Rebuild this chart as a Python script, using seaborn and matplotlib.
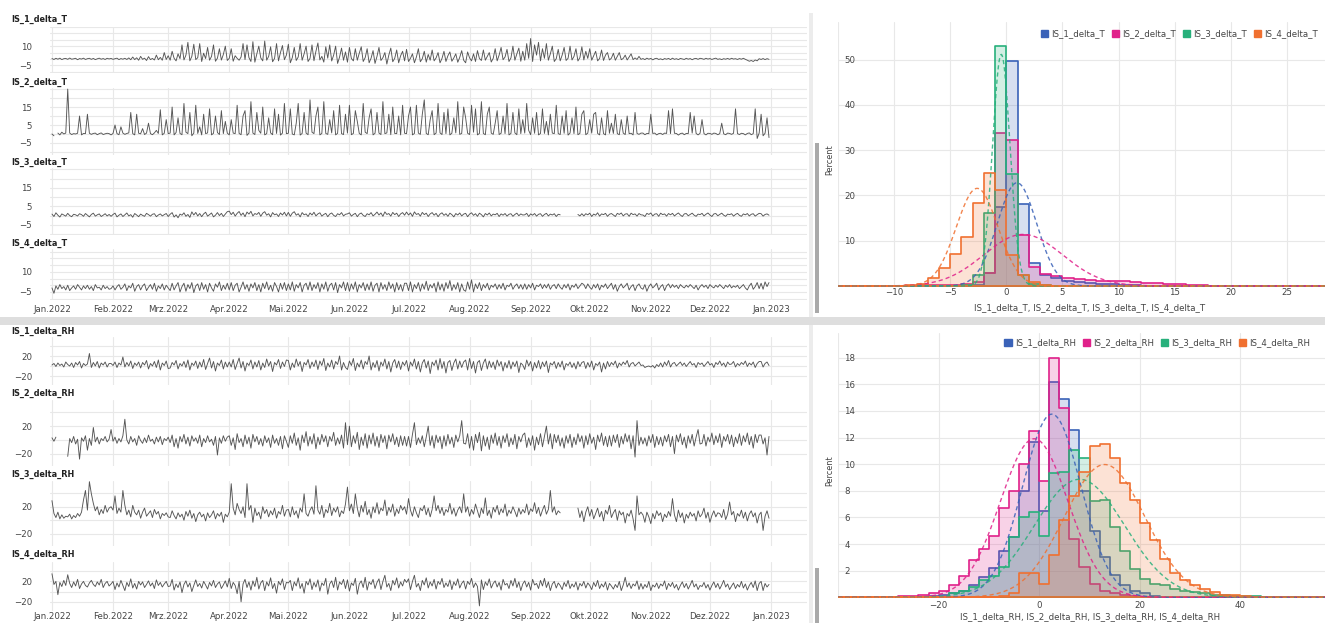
import numpy as np
import pandas as pd
import matplotlib
matplotlib.use("Agg")
import matplotlib.pyplot as plt
from matplotlib.patches import Patch, Rectangle
import seaborn as sns

nan = np.nan

# ---------------------------------------------------------------------------
# Daily sensor differences from 2022-01-01 (one row per ~30 days)
# ---------------------------------------------------------------------------
IS_1_delta_T = [
    0.3, -0.4, 0.5, -0.2, 0.6, -0.5, 0.2, 0.4, -0.3, 0.7, -0.2, 0.1, 0.5, -0.6, 0.3, -0.1, 0.6, -0.4, 0.2, 0.5, -0.3, 0.4, -0.5, 0.1, 0.6, -0.2, 0.3, -0.4, 0.5, 0.0,
    0.4, -0.3, 0.2, 0.6, -0.5, 0.3, -0.2, 0.5, -0.4, 0.8, -0.6, 1.5, -0.5, 0.9, -1.0, 2.0, -0.3, 0.6, -1.2, 1.8, -0.5, 0.4, -0.8, 3.0, -0.6, 1.2, -1.0, 5.0, -0.4, 2.5,
    -1.0, 6.0, 0.5, -1.5, 4.0, 0.2, 11.0, -0.8, 3.0, 13.0, -1.5, 2.0, 11.5, -0.5, 1.0, 12.0, -2.0, 4.5, 0.3, 9.0, -1.0, 2.0, 11.0, -1.8, 0.6, 8.0, -0.9, 3.5, 10.0, -1.2,
    0.5, 8.0, -1.8, 2.5, 0.5, -1.0, 1.5, 12.0, -0.5, 11.0, 1.0, -2.0, 13.5, -2.5, 4.0, 10.0, 0.8, -1.5, 14.0, -1.0, 2.0, 9.5, -2.2, 0.4, 12.0, -1.5, 5.0, 10.5, -0.6, 3.0,
    11.5, -3.0, 1.0, 9.0, -1.2, 1.5, 12.0, -1.0, 4.0, 10.0, -2.0, 0.5, 11.0, -1.4, 6.0, 12.5, -0.8, 2.0, -2.5, 9.5, 0.6, 11.0, -1.6, 3.0, 10.0, -3.5, 1.5, 8.5, -1.0, 5.5,
    -2.5, 9.0, 0.3, -1.5, 8.0, -1.0, 4.5, 9.5, -2.0, 1.0, 8.0, -3.0, 0.6, 6.5, -3.5, 2.0, 9.0, -1.2, 1.0, 5.0, -4.0, 3.0, 8.5, -2.2, 0.5, 7.0, -3.0, 2.5, 6.0, -1.5,
    7.5, -2.0, 0.5, 4.0, -3.0, 1.5, 8.0, -2.2, 0.2, 6.0, -2.5, 3.5, -1.0, 7.0, -1.5, 0.8, 5.0, -3.0, 0.4, 6.0, -2.0, 2.5, 5.5, -1.8, 0.8, 4.0, -2.6, 1.2, 6.5, -1.0,
    -3.0, 5.5, 0.8, -1.5, 4.0, -2.0, 6.5, 0.3, -1.2, 7.0, -1.0, 2.0, 5.0, -2.4, 0.5, 8.0, -1.5, 3.0, 9.0, -0.6, 1.5, 7.5, -2.0, 0.8, 10.0, -1.0, 4.0, 8.5, -1.8, 6.0,
    -1.0, 12.0, 0.5, 16.0, -2.0, 11.0, 3.0, 13.0, -1.5, 8.0, 0.5, 12.0, -1.0, 4.0, 10.0, -2.0, 0.2, 7.5, -1.5, 3.0, 9.0, -1.2, 0.5, 10.0, -0.8, 2.0, 8.0, -1.6, 1.0, 9.5,
    -0.8, 6.0, 0.4, 8.0, -1.0, 2.5, 6.0, -1.5, 0.3, 7.0, -1.2, 3.0, 5.0, -0.8, 0.6, 4.5, -1.0, 2.0, 5.0, -0.6, 0.4, 3.0, -0.8, 1.5, 4.0, -0.5, 0.8, -0.4, 2.0, -0.3,
    0.3, -0.5, 0.6, -0.2, 0.4, -0.7, 0.2, 0.5, -0.4, 0.1, -0.6, 0.3, -0.2, 0.4, -0.5, 0.6, -0.3, 0.2, -0.5, 0.4, 0.0, -0.4, 0.5, -0.2, 0.3, -0.6, 0.2, 0.4, -0.3, 0.5,
    0.2, -0.3, 0.5, -0.1, 0.3, -0.4, 0.2, 0.6, -0.3, 0.1, -0.5, 0.2, -0.2, 0.4, -0.3, 0.5, -0.1, 0.2, -0.4, 0.3, -0.2, 0.5, -0.3, -1.0, -1.8, -1.2, -2.0, -0.8, -1.5, 0.2,
    -0.4, 0.3, -0.5, 0.2, -0.3,
]
IS_2_delta_T = [
    0.0, -1.0, nan, 0.5, -0.5, 1.0, 0.0, 0.5, 25.0, 0.5, -0.3, 0.2, 0.0, 0.4, 10.0, -0.5, 0.3, 0.2, 11.0, 0.4, -0.2, 0.3, 0.5, -0.4, 0.2, 0.6, -0.3, 0.1, 0.4, 0.2,
    -0.5, 0.3, 5.0, 0.2, -0.4, 4.0, 0.5, -0.2, 0.3, 0.6, 12.0, 0.2, -0.5, 11.0, 0.4, 0.1, 3.0, -0.3, 0.5, 6.0, 0.2, -0.4, 0.6, 2.0, 0.3, 13.5, -0.5, 0.4, 8.0, 0.2,
    0.5, 15.0, -0.5, 0.8, 9.0, 0.3, -0.4, 17.0, 1.0, 0.2, 12.0, -1.0, 0.5, 16.0, 0.3, 4.0, -0.5, 11.0, 0.2, 0.6, 14.0, -0.5, 0.4, 10.0, 0.8, -0.3, 13.0, 0.2, 7.0, 0.5,
    -0.5, 8.0, 0.5, 0.2, 16.0, 0.3, -0.4, 10.0, 13.0, -0.8, 0.5, 18.0, 0.5, -0.3, 12.0, 2.0, 0.4, 15.0, -0.5, 0.2, 9.0, 0.6, -0.4, 14.0, 0.3, 11.0, -0.6, 0.5, 17.0, 0.2,
    0.4, 14.0, 0.0, -0.5, 6.0, 17.0, -0.6, 0.3, 12.0, 0.5, -0.4, 19.0, 1.0, 0.2, 10.0, 15.0, -0.5, 0.3, 18.0, 0.3, -0.2, 8.0, 0.6, 13.0, -0.5, 0.4, 16.0, 0.2, -0.3, 11.0,
    0.5, 16.0, -0.4, 0.3, 13.0, 7.0, 0.3, -0.5, 17.0, 1.0, 0.2, 9.0, 14.0, -0.5, 0.4, 12.0, 0.5, -0.3, 18.0, 0.2, 0.6, 11.0, -0.4, 15.0, 0.3, 0.2, 10.0, -0.5, 16.0, 0.4,
    0.2, 10.0, 15.0, -0.5, 0.3, 16.0, 0.5, -0.2, 11.0, 19.0, 0.3, -0.4, 8.0, 13.0, -0.4, 0.5, 17.0, 0.6, -0.3, 12.0, 0.2, 14.0, -0.5, 0.4, 9.0, 0.6, 18.0, -0.2, 0.3, 15.0,
    9.0, 0.4, -0.3, 16.0, 1.0, 14.0, -0.5, 0.3, 18.0, 0.3, -0.4, 11.0, 15.0, 0.5, -0.2, 6.0, 13.0, -0.3, 0.4, 10.0, 0.2, 17.0, -0.5, 0.3, 12.0, 0.6, -0.4, 14.0, 0.2, 8.0,
    0.5, 17.0, 2.0, -0.4, 9.0, 0.4, 12.0, -0.5, 0.3, 14.0, 0.3, 7.0, -0.5, 11.0, 0.5, 0.2, 16.0, 0.2, -0.3, 10.0, 0.4, 13.0, -0.6, 0.5, 9.0, 0.2, 15.0, -0.4, 0.3, 11.0,
    13.0, -0.4, 0.5, 8.0, 0.5, 11.0, 12.0, 0.3, -0.5, 9.0, 0.2, -0.5, 13.0, 0.4, 6.0, 0.3, 11.0, 0.2, -0.4, 8.0, 0.5, -0.3, 10.0, 0.2, 0.4, -0.5, 12.0, 0.3, -0.2, 0.5,
    0.5, -0.4, 0.3, 0.2, 11.0, 0.3, 0.5, -0.5, 0.2, 0.4, -0.3, 0.5, 0.3, 13.0, 0.2, 14.0, 0.4, 0.3, -0.6, 0.2, 0.5, -0.4, 0.3, 0.2, 12.0, 0.5, 10.0, 0.3, -0.5, 0.4,
    8.0, 0.2, -0.5, 0.4, 0.3, -0.2, 0.5, 0.3, -0.4, 0.2, 6.0, 0.1, -0.4, 0.5, 0.3, -0.2, 0.4, 14.0, 0.2, -0.3, 0.4, 0.2, -0.5, 0.3, 0.6, -0.4, 0.2, 14.0, -2.5, 0.5,
    11.0, -1.0, 0.4, 9.0, -2.0,
]
IS_3_delta_T = [
    0.8, -0.5, 1.5, 0.2, -0.8, 0.9, 0.3, -0.3, 1.2, 0.0, -0.6, 0.7, 0.4, -0.2, 1.0, 0.5, -0.4, 1.1, 0.2, -0.7, 0.6, 1.3, -0.3, 0.4, 0.9, -0.5, 0.2, 1.0, -0.2, 0.6,
    -0.4, 0.6, 1.3, -0.7, 0.2, 0.9, -0.5, 0.4, 1.4, -0.2, 0.5, -0.9, 1.1, 0.3, -0.6, 0.8, 0.1, -0.4, 1.2, 0.5, -0.3, 0.7, 1.0, -0.6, 0.3, 0.9, -0.2, 0.5, 1.1, -0.5,
    0.7, 1.6, -0.8, 0.4, -1.2, 0.8, 0.2, 1.5, -0.4, 0.6, -1.0, 2.0, 0.3, 1.7, -0.2, 1.1, -0.6, 0.9, 1.8, -0.3, 0.5, 1.4, -0.7, 0.2, 1.6, 0.0, 1.2, -0.5, 0.8, 2.1,
    2.4, 0.5, 1.8, -0.3, 1.2, 2.2, 0.1, 1.4, -0.6, 1.9, 0.8, 2.3, -0.2, 1.1, 0.6, 1.7, -0.4, 1.3, 2.1, 0.2, 1.0, -0.7, 1.6, 0.4, 0.9, -0.5, 1.4, 0.3, 1.8, -0.2,
    1.7, -0.4, 1.3, 2.1, 0.2, 1.0, -0.7, 1.6, 0.4, 0.9, -0.5, 1.4, 0.3, 1.8, -0.2, 0.9, 1.5, -0.3, 0.6, 1.2, -0.6, 0.8, 1.4, 0.1, -0.5, 1.0, 0.4, 1.6, -0.2, 0.7,
    0.9, 1.5, -0.3, 0.6, 1.2, -0.6, 0.8, 1.4, 0.1, -0.5, 1.0, 0.4, 1.6, -0.2, 0.7, 1.9, 0.3, 1.4, -0.4, 2.0, 0.6, 1.1, -0.3, 1.7, 0.5, 1.3, -0.5, 0.9, 1.6, 0.2,
    1.9, 0.3, 1.4, -0.4, 2.0, 0.6, 1.1, -0.3, 1.7, 0.5, 1.3, -0.5, 0.9, 1.6, 0.2, 1.2, -0.6, 0.8, 1.5, 0.1, 1.0, -0.4, 1.3, 0.5, -0.7, 1.1, 0.3, 1.4, -0.2, 0.8,
    1.2, -0.6, 0.8, 1.5, 0.1, 1.0, -0.4, 1.3, 0.5, -0.7, 1.1, 0.3, 1.4, -0.2, 0.8, 0.4, 1.2, -0.5, 0.9, 0.2, 1.1, -0.3, 0.7, 1.0, -0.4, 0.6, 1.3, -0.1, 0.9, 0.3,
    0.4, 1.2, -0.5, 0.9, 0.2, 1.1, -0.3, 0.7, 1.0, -0.4, 0.6, 1.2, -0.2, 0.8, 0.3, 1.0, -0.5, 0.7, 0.4, nan, nan, nan, nan, nan, nan, nan, nan, 0.6, -0.2, 1.0,
    -0.2, 1.0, 0.4, 1.3, -0.5, 0.8, 0.2, 1.5, -0.3, 0.9, 0.5, 1.2, -0.4, 0.7, 1.1, 0.3, -0.5, 1.2, 0.6, 1.4, -0.2, 0.8, 1.0, -0.4, 1.3, 0.5, 0.9, -0.3, 1.1, 0.4,
    0.3, -0.5, 1.2, 0.6, 1.4, -0.2, 0.8, 1.0, -0.4, 1.3, 0.5, 0.9, -0.3, 1.1, 0.4, 1.2, -0.2, 0.7, 1.4, 0.3, -0.5, 0.9, 1.1, -0.1, 0.6, 1.3, 0.2, -0.4, 0.8, 0.5,
    1.2, -0.2, 0.7, 1.4, 0.3, -0.5, 0.9, 1.1, -0.1, 0.6, 1.3, 0.2, -0.4, 0.8, 0.5, 1.0, -0.3, 0.6, 1.2, 0.1, -0.4, 0.9, 0.4, 1.1, -0.2, 0.7, 1.0, -0.3, 0.5, 1.2,
    1.0, -0.3, 0.6, 0.9, 0.2,
]
IS_4_delta_T = [
    -2.0, -6.0, -0.5, -3.0, 0.5, -2.5, -1.0, -3.5, 0.0, -4.0, -2.0, -0.5, -3.0, 0.5, -1.5, -3.5, -0.5, -2.5, 0.0, -3.0, -1.0, -4.0, 0.5, -2.0, -1.5, -3.5, 0.0, -2.5, -1.0, -3.0,
    -2.5, -0.5, -3.5, -1.0, 0.5, -3.0, -1.5, 1.0, -4.0, -0.5, -2.0, 1.5, -4.5, -1.0, 0.5, -3.5, -0.5, 1.0, -4.0, -1.5, 0.5, -3.0, 1.5, -4.5, -0.5, -2.5, 1.0, -3.5, 0.0, -2.0,
    -4.0, 1.5, -3.5, -0.5, 2.0, -5.0, -1.0, 1.5, -4.5, 0.5, -2.5, 2.0, -5.5, -0.5, 1.0, -4.0, 2.0, -3.0, 0.5, -5.0, 1.5, -2.0, -4.5, 1.0, -1.5, 2.5, -4.0, 0.0, -3.0, 1.5,
    -3.5, 2.0, -4.0, 0.0, 1.5, -5.0, -1.5, 2.5, -3.0, 0.5, -4.5, 1.0, -2.0, 2.0, -4.0, 0.5, -5.0, 1.5, -2.5, 2.5, -3.5, 0.0, -4.5, 2.0, -1.0, -5.0, 1.5, -3.0, 2.0, -4.0,
    1.0, -3.5, 2.5, -4.5, 0.5, -2.0, 2.0, -5.0, 0.0, 1.5, -3.5, 2.5, -4.0, 0.5, -2.5, 2.0, -5.0, 1.0, -3.0, 2.5, -4.5, 0.0, 1.5, -3.5, 2.0, -5.5, 0.5, -2.0, 2.5, -4.0,
    2.0, -4.5, 1.0, -3.0, 2.5, -5.0, 0.5, -2.0, 2.0, -4.0, 1.0, -3.5, 2.5, -4.5, 0.0, 1.5, -5.0, 2.0, -3.0, 0.5, -4.0, 2.5, -2.5, 1.0, -5.0, 2.0, -3.5, 0.5, -4.5, 1.5,
    1.5, -4.0, 2.5, -5.0, 0.5, -2.5, 2.0, -4.5, 1.0, -3.0, 3.0, -4.0, 0.5, -2.0, 1.5, -5.0, 2.5, -3.5, 1.0, -4.5, 2.0, -2.5, 3.5, -4.0, 0.5, -3.0, 2.0, -5.0, 1.0, -3.5,
    -4.5, 2.5, -3.0, 4.0, -5.0, 1.0, -2.5, 2.0, -4.0, 0.5, -2.0, 1.5, -3.5, 0.0, -1.5, 1.0, -3.0, 0.5, -2.5, 1.5, -3.5, 0.0, -1.0, 1.5, -3.0, -0.5, 1.0, -2.5, 0.5, -3.0,
    1.0, -3.0, 0.5, -2.0, 1.5, -3.5, 0.0, -1.0, 1.0, -2.5, 0.5, -2.0, 1.0, -3.0, -0.5, 0.5, -2.5, 1.0, -1.5, -3.0, 0.5, -2.0, 1.0, -3.5, 0.0, -1.5, 1.0, -2.5, -0.5, 1.5,
    0.5, -2.5, 1.0, -1.5, -3.0, 0.5, -2.0, 1.0, -3.5, 0.0, -1.5, 1.0, -2.5, -0.5, 1.5, -3.0, 0.5, -4.5, -1.0, 1.0, -2.0, -0.5, 1.5, -3.5, -1.0, 0.5, -4.0, -0.5, 1.0, -2.0,
    -3.0, 0.5, -4.5, -1.0, 1.0, -2.0, -0.5, 1.5, -3.5, -1.0, 0.5, -4.0, -0.5, 1.0, -2.0, 0.5, -1.5, 0.0, -2.5, 0.5, -1.0, -2.0, 0.0, -1.5, 0.5, -1.0, -2.5, 0.0, -3.5, -1.0,
    0.5, -1.5, 0.0, -2.5, 0.5, -1.0, -2.0, 0.0, -1.5, 0.5, -1.0, -2.5, 0.0, -1.5, 0.5, -2.0, -0.5, -1.5, 0.0, -2.5, -1.0, 0.5, -2.0, -3.5, -0.5, 1.5, -3.0, -1.0, 2.0, -2.5,
    1.5, -3.0, 2.5, -1.0, 2.0,
]
IS_1_delta_RH = [
    2, 5, -1, 6, 1, 4, -2, 8, 3, 0, 6, -3, 7, 2, 9, -4, 5, 1, 4, 25, -3, 7, 0, 9, -4, 6, 2, 8, -2, 5,
    5, 1, 8, -3, 6, 2, 18, -2, 7, 0, 10, -5, 6, 1, 8, -4, 7, 2, 11, -6, 5, 0, 9, -3, 12, -8, 6, 1, 10, -5,
    -4, 7, 2, 11, -6, 5, 0, 9, -3, 12, -8, 6, 1, 10, -5, 8, -2, 13, -7, 5, 16, -4, 9, -10, 6, 1, 12, -6, 8, -2,
    8, -2, 13, -7, 5, 16, -4, 9, -10, 6, 1, 12, -6, 8, -2, 11, -8, 6, -3, 14, 0, 9, -11, 7, 2, 13, -5, 8, -1, 12,
    11, -8, 6, -3, 14, 0, 9, -11, 7, 2, 13, -5, 8, -1, 12, -7, 10, 1, 15, -9, 6, -2, 12, -6, 9, 3, 20, -8, 7, -3,
    -7, 10, 1, 15, -9, 6, -2, 12, -6, 9, 3, 20, -8, 7, -3, 11, -10, 8, 0, 14, -6, 9, -12, 6, 13, -4, 10, -7, 8, 1,
    11, -10, 8, 0, 14, -6, 9, -12, 6, 13, -4, 10, -15, 8, 1, 12, -8, 15, -5, 9, -14, 7, 11, -9, 6, 14, -6, 10, -3, 8,
    12, -8, 15, -5, 9, -14, 7, 11, -9, 6, 14, -6, 10, -3, 8, -7, 12, 0, 9, -10, 7, -4, 11, -6, 8, -1, 10, -13, 6, 2,
    -7, 12, 0, 9, -10, 7, -4, 11, -6, 8, -1, 10, -13, 6, 2, 9, -5, 7, -2, 10, -8, 5, 1, 8, -3, 6, -6, 9, -1, 7,
    9, -5, 7, -2, 10, -8, 5, 1, 8, -12, 6, -6, 9, -1, 7, 2, 10, -4, 6, 1, 8, 3, 11, -2, 5, 7, 0, 4, 8, 1,
    2, -3, -1, 0, -2, 1, -4, 3, -1, 6, -2, 8, 1, 11, -2, 5, 7, 0, 4, 8, 1, 6, -1, 4, 9, 2, 5, -3, 7, 3,
    6, -1, 4, 9, 2, 5, -3, 7, 3, 10, 1, 6, -2, 8, 3, 4, 9, -2, 5, 1, 7, 3, 10, -1, 6, 2, 8, -3, 5, 9,
    9, -2, 5, 8, 1,
]
IS_2_delta_RH = [
    3, -2, 4, nan, nan, nan, nan, nan, -24, 2, -4, 5, -6, 1, -28, 3, -2, 6, -15, 2, -8, 18, -3, 4, -6, 2, -1, 5, -3, 1,
    15, -2, 4, -5, 2, -3, 6, 30, 0, -6, 5, -3, 2, -8, 6, -1, -5, 3, -4, 7, -2, 1, -6, 4, -3, 5, -7, 2, -1, 4,
    -4, 7, -10, 2, -12, 5, -3, 8, -6, 4, -9, 6, -2, 3, -5, 7, -10, 2, -4, 6, -3, 1, -8, 5, -22, 3, -5, 6, -2, 4,
    6, -8, 3, -14, 9, -4, 2, -10, 7, -6, 4, -12, 8, -3, 5, -7, 2, -9, 6, -4, 3, -11, 7, -5, 2, -8, 5, -13, 6, -2,
    -11, 6, -5, 10, -8, 3, -15, 7, -4, 12, -9, 5, -6, 9, -13, 4, -7, 8, -3, 6, -10, 5, -2, 11, -8, 3, -6, 7, -12, 25,
    -7, 20, -10, 6, -5, 11, -14, 4, -8, 9, -12, 7, -6, 10, -9, 5, -11, 8, -4, 6, -13, 7, -3, 9, -7, 4, -10, 6, -8, 5,
    -9, 5, -11, 8, 25, -7, 3, -5, 6, -10, 4, 20, -8, 6, -12, 7, -4, 5, -13, 6, -9, 8, -6, 4, -11, 7, -3, 6, 28, -5,
    -6, 9, -12, 5, -15, 8, -4, 11, -16, 6, -9, 4, -14, 7, -5, 10, -8, 5, -12, 6, -4, 9, -10, 3, -7, 8, -13, 5, -3, 7,
    10, -11, 3, -8, 6, -15, 4, -7, 9, -10, 5, 20, -6, 9, -13, 8, -4, 7, -9, 3, -12, 6, -5, 8, -11, 4, -7, 9, -3, 6,
    -12, 6, -7, 9, -5, 4, -14, 7, -3, 10, -8, 5, -10, 6, -9, 7, -4, 8, -11, 5, -6, 9, -3, 7, -13, 6, -25, 28, -8, 4,
    -6, 3, -9, 6, -4, 8, -11, 5, -7, 4, -9, 6, -3, 8, -10, 5, -20, 7, -3, 9, -7, 4, -12, 6, -5, 8, -9, 4, 15, -6,
    -5, 8, -9, 4, -3, 10, -7, 6, -4, 9, -11, 5, -2, 8, -6, 7, -10, 4, -5, 9, -8, 6, -3, 10, -7, 5, -12, 8, -4, 7,
    7, -6, 3, -22, 5,
]
IS_3_delta_RH = [
    29, 10, 4, 12, 2, 8, 3, 6, 5, 9, 2, 7, 4, 10, 6, 12, 30, 44, 15, 57, 39, 25, 14, 20, 8, 16, 10, 22, 12, 18,
    20, 15, 36, 10, 18, 12, 44, 22, 8, 15, 5, 22, 12, 8, 15, 3, 12, 18, 6, 10, 14, 4, 16, 9, 13, 2, 10, 7, 11, 5,
    4, 14, 7, 2, 11, 5, 9, 0, 13, 6, 15, 3, 10, -2, 8, 12, 5, 9, -1, 11, 4, 8, 14, 2, 10, 6, 12, -3, 9, 5,
    12, 54, 18, 8, 25, 16, 10, 20, 4, 54, 15, 22, -3, 18, 7, 12, 2, 20, 10, 16, 5, 14, 8, 18, 3, 13, 9, 22, 6, 15,
    16, 5, 20, 8, 14, 3, 18, 12, 39, 10, 6, 15, 20, 9, 51, 15, 9, 22, 4, 16, 11, 25, 7, 18, 12, 20, 5, 14, 10, 24,
    49, 14, 24, 10, 39, 18, 5, 22, 12, 28, 8, 16, 3, 20, 11, 26, 9, 18, 14, 30, 7, 19, 12, 24, 6, 17, 10, 22, 15, 20,
    9, 32, 15, 6, 20, 11, 4, 18, 14, 22, 8, 18, 5, 16, 36, 14, 22, 10, 19, 7, 16, 12, 25, 9, 18, 6, 15, 20, 11, 39,
    12, 20, 6, 16, 9, 24, 14, 4, 18, 10, 33, 7, 15, 3, 19, 12, 22, 8, 17, 11, 24, 6, 15, 10, 20, 13, 5, 18, 9, 16,
    11, 24, 8, 17, 13, 26, 10, 19, 6, 15, 22, 9, 16, 44, 12, 20, 8, 14, 11, nan, nan, nan, nan, nan, nan, nan, nan, 18, 4, 14,
    -2, 12, 20, 6, 16, 2, 10, 18, 5, 13, -1, 15, 9, 22, 4, 11, 16, 0, 14, 8, 12, -4, 10, 6, 15, 2, -15, 36, 8, 12,
    8, -3, 12, 5, -5, 10, 2, 14, 7, 11, -2, 9, 4, 13, 6, 32, 8, -2, 15, 4, 11, -4, 9, 3, 12, 6, 10, -1, 14, 5,
    9, 18, 3, 12, -3, 7, 14, 5, 11, 10, 4, 16, 1, 9, 27, 8, 13, -2, 10, 6, 15, 3, 12, -1, 9, 14, 5, 11, -4, 8,
    12, -15, 6, 14, 3,
]
IS_4_delta_RH = [
    35, 14, 20, -6, 18, 10, 22, 12, 33, 16, 8, 19, 11, 24, 6, 15, 20, 12, 9, 17, 22, 14, 10, 19, 13, 24, 8, 16, 20, 11,
    15, 20, 4, 17, 9, 22, 12, 2, 18, 10, 25, 7, 16, 5, 20, 13, 19, 8, 14, 21, 11, 17, 6, 23, 12, 18, 9, 15, 20, 10,
    11, 24, 3, 15, 8, 19, -2, 14, 21, 9, 17, 0, 12, 23, 10, 16, 7, 20, 13, 5, 18, 11, 22, 8, 15, 19, 6, 13, 21, 9,
    26, 6, 18, 12, -4, 20, -20, 15, 24, 8, 19, 3, 21, 10, 28, 5, 17, 22, 2, 19, 11, 27, 6, 16, -3, 20, 13, 25, 4, 18,
    17, 22, 2, 19, 11, 27, 6, 16, -3, 20, 13, 25, 4, 18, 9, 23, 1, 17, 12, 26, -5, 15, 21, 8, 28, 3, 19, 14, 24, 6,
    23, 1, 17, 12, 26, -5, 15, 21, 8, 28, 3, 19, 14, 24, 6, 18, 25, 4, 20, 32, 9, 16, 2, 22, 13, 27, 7, 19, 11, 24,
    18, 25, 4, 20, 32, 9, 16, 2, 22, 13, 27, 7, 19, 11, 24, 5, 20, 14, 26, 8, 17, 10, 23, 4, 19, 12, 25, 7, 16, 21,
    5, 20, 14, 26, 8, 17, 10, -28, 23, 4, 19, 12, 25, 7, 16, 21, 9, 18, 3, 24, 13, 16, 6, 22, 11, 26, 8, 19, 2, 15,
    21, 9, 18, 3, 24, 13, 16, 6, 22, 11, 26, 8, 19, 2, 15, 20, 7, 17, 12, 4, 18, 10, 22, 6, 15, 9, 19, 3, 16, 11,
    20, 7, 17, 12, 4, 18, 10, 22, 6, 15, 9, 19, 3, 16, 11, 5, 14, 8, 20, 2, 13, 28, 9, 17, 6, 15, 11, 21, 4, 16,
    5, 14, 8, 20, 2, 13, 9, 17, 6, 15, 11, 21, 4, 16, 10, 18, 7, 14, 3, 12, 19, 8, 16, 5, 13, 22, 9, 15, 4, 12,
    10, 18, 7, 14, 3, 12, 19, 8, 16, 5, 13, 22, 9, 15, 4, 11, 17, 6, 14, 9, 20, 7, 15, 3, 12, 18, 8, 21, 2, 16,
    20, 2, 16, 9, 14,
]

T_names = ["IS_1_delta_T", "IS_2_delta_T", "IS_3_delta_T", "IS_4_delta_T"]
RH_names = ["IS_1_delta_RH", "IS_2_delta_RH", "IS_3_delta_RH", "IS_4_delta_RH"]
month_labels = ["Jan.2022", "Feb.2022", "Mrz.2022", "Apr.2022", "Mai.2022", "Jun.2022",
                "Jul.2022", "Aug.2022", "Sep.2022", "Okt.2022", "Nov.2022", "Dez.2022",
                "Jan.2023"]

# ---------------------------------------------------------------------------
# Histograms: percent of samples per bin, listed from the left edge of the first bin
# ---------------------------------------------------------------------------
T_bin_width = 1
IS_1_T_hist_start = -3
IS_1_T_hist = [0.3, 2.8, 17.5, 49.6, 18.2, 5.0, 2.4, 1.8, 1.2, 0.9, 0.7, 0.5, 0.4, 0.3,
               0.2, 0.1]
IS_2_T_hist_start = -9
IS_2_T_hist = [0.1, 0.2, 0.2, 0.3, 0.3, 0.4, 0.8, 2.8, 33.7, 32.2, 11.2, 4.3, 2.6, 2.2,
               1.8, 1.5, 1.3, 1.2, 1.1, 1.0, 0.9, 0.7, 0.6, 0.5, 0.4, 0.3, 0.2, 0.1,
               0.1, 0.1]
IS_3_T_hist_start = -4
IS_3_T_hist = [0.3, 2.5, 16.2, 52.9, 24.8, 2.5, 0.5, 0.2]
IS_4_T_hist_start = -10
IS_4_T_hist = [0.1, 0.2, 0.5, 1.8, 3.9, 7.0, 10.9, 18.4, 25.0, 21.2, 6.8, 2.4, 0.8, 0.3,
               0.1]
T_hist_ticks = [-10, -5, 0, 5, 10, 15, 20, 25]
T_hist_ticklabels = ["\u221210", "\u22125", "0", "5", "10", "15", "20", "25"]

RH_bin_width = 2
IS_1_RH_hist_start = -22
IS_1_RH_hist = [0.1, 0.2, 0.3, 0.5, 0.9, 1.5, 2.2, 3.5, 4.5, 8.0, 11.7, 6.5, 16.2, 14.9,
                12.6, 8.0, 5.0, 3.0, 1.7, 0.9, 0.5, 0.3, 0.1]
IS_2_RH_hist_start = -28
IS_2_RH_hist = [0.1, 0.1, 0.2, 0.3, 0.5, 0.9, 1.6, 2.8, 3.6, 4.6, 6.7, 8.0, 10.0, 12.5,
                8.7, 18.0, 14.2, 4.4, 2.3, 1.0, 0.5, 0.3, 0.2, 0.1]
IS_3_RH_hist_start = -18
IS_3_RH_hist = [0.3, 0.5, 0.8, 1.3, 1.6, 2.3, 4.5, 6.0, 6.4, 4.6, 9.3, 9.4, 11.1, 10.5,
                7.2, 7.3, 5.3, 3.5, 2.1, 1.4, 1.0, 0.9, 0.6, 0.5, 0.4, 0.3, 0.2, 0.2,
                0.1, 0.1, 0.1]
IS_4_RH_hist_start = -8
IS_4_RH_hist = [0.1, 0.3, 1.8, 1.8, 1.0, 3.2, 5.8, 7.6, 9.4, 11.4, 11.5, 10.5, 8.6, 7.3,
                5.6, 4.3, 2.9, 1.8, 1.3, 0.9, 0.6, 0.4, 0.2, 0.15, 0.1]
RH_hist_ticks = [-20, 0, 20, 40]
RH_hist_ticklabels = ["\u221220", "0", "20", "40"]

# normal fits drawn over each histogram
T_fit_mean = [0.95, 1.5, -0.45, -2.6]
T_fit_sd = [1.75, 3.5, 0.78, 1.85]
RH_fit_mean = [2.5, -1.0, 8.0, 13.0]
RH_fit_sd = [5.8, 6.7, 9.0, 8.0]

series_colors = ["#3A62B8", "#E0218A", "#27B07B", "#F07030"]

# ---------------------------------------------------------------------------
W, H = 1325, 623
sns.set_theme(style="white")
plt.rcParams["font.family"] = ["DejaVu Sans"]
fig = plt.figure(figsize=(W / 100, H / 100), dpi=100)
fig.patch.set_facecolor("white")

GRID = "#e8e8e8"
TXT = "#444444"
LINE = "#555555"


def add_ax(l, t, r, b):
    return fig.add_axes([l / W, 1 - b / H, (r - l) / W, (b - t) / H])


def gray_box(l, t, r, b, color):
    fig.add_artist(Rectangle((l / W, 1 - b / H), (r - l) / W, (b - t) / H,
                             transform=fig.transFigure, facecolor=color,
                             edgecolor="none", zorder=0.5))


month_ticks = pd.date_range("2022-01-01", "2023-01-01", freq="MS")
x_lo, x_hi = pd.Timestamp("2021-12-31"), pd.Timestamp("2023-01-19 07:00")


def draw_series(ax, values, ylim, labeled, grid_vals, show_x, xpad):
    v = np.asarray(values, float)
    days = pd.date_range("2022-01-01", periods=len(v), freq="D")
    df = pd.DataFrame({"date": days, "value": v, "seg": np.cumsum(np.isnan(v))}).dropna()
    sns.lineplot(data=df, x="date", y="value", units="seg", estimator=None,
                 color=LINE, lw=0.65, ax=ax)
    ax.set_xlim(x_lo, x_hi)
    ax.set_ylim(*ylim)
    ax.set_yticks(labeled)
    ax.set_yticks(grid_vals, minor=True)
    ax.set_xticks(month_ticks)
    ax.set_xticklabels(month_labels if show_x else [])
    ax.grid(True, which="both", color=GRID, lw=0.8)
    ax.set_axisbelow(True)
    ax.tick_params(axis="both", which="both", length=0, labelsize=6.2, labelcolor=TXT)
    ax.tick_params(axis="y", pad=13)
    ax.tick_params(axis="x", pad=xpad)
    ax.set_xlabel("")
    ax.set_ylabel("")
    for s in ax.spines.values():
        s.set_visible(False)


# temperature block
T_values = [IS_1_delta_T, IS_2_delta_T, IS_3_delta_T, IS_4_delta_T]
T_boxes = [(27, 73), (88, 155), (168, 235), (249, 300)]
T_ylims = [(-11, 23.5), (-11.7, 25.6), (-10.5, 25.7), (-11, 27)]
T_ticks = [[-5, 10], [-5, 5, 15], [-5, 5, 15], [-5, 10]]
T_title_y = [19, 82, 162, 243]
for i in range(4):
    ax = add_ax(50, T_boxes[i][0], 807, T_boxes[i][1])
    draw_series(ax, T_values[i], T_ylims[i], T_ticks[i], list(range(-10, 30, 5)),
                i == 3, 3.5)
    fig.text(11 / W, 1 - T_title_y[i] / H, T_names[i], fontsize=5.9,
             fontweight="bold", va="center", color="#222222")

# humidity block
RH_values = [IS_1_delta_RH, IS_2_delta_RH, IS_3_delta_RH, IS_4_delta_RH]
RH_boxes = [(337, 385), (400, 466), (481, 546), (562, 611)]
RH_title_y = [331, 393, 474, 554]
for i in range(4):
    ax = add_ax(50, RH_boxes[i][0], 807, RH_boxes[i][1])
    draw_series(ax, RH_values[i], (-38, 58), [-20, 20], [0, 40], i == 3, 1.0)
    fig.text(11 / W, 1 - RH_title_y[i] / H, RH_names[i], fontsize=5.9,
             fontweight="bold", va="center", color="#222222")


def draw_hist(ax, box, edges, bw, starts, heights, means, sds, xlim, ylim,
              xticks, xticklabels, xminor, yticks, names, legend_anchor, label_y):
    centers = edges[:-1] + bw / 2
    for st, h, c in zip(starts, heights, series_colors):
        full = np.zeros(len(centers))
        i0 = int(round((st - edges[0]) / bw))
        full[i0:i0 + len(h)] = h
        frame = pd.DataFrame({"value": centers, "pct": full})
        sns.histplot(data=frame, x="value", weights="pct", bins=list(edges),
                     element="step", fill=True, color=c, alpha=0.2, linewidth=1.2, ax=ax)
    xs = np.linspace(xlim[0], xlim[1], 800)
    for m, s, c in zip(means, sds, series_colors):
        ys = 100 * bw * np.exp(-0.5 * ((xs - m) / s) ** 2) / (s * np.sqrt(2 * np.pi))
        sns.lineplot(x=xs, y=ys, color=c, lw=1.0, linestyle=(0, (3, 2.2)),
                     alpha=0.85, ax=ax)
    ax.set_xlim(*xlim)
    ax.set_ylim(*ylim)
    # vertical grid at the tick values plus the left edge; value labels on the figure
    ax.set_xticks(list(xminor) + list(xticks))
    ax.set_xticklabels([])
    left, right = box
    for xv, lab in zip(xticks, xticklabels):
        px = left + (xv - xlim[0]) / (xlim[1] - xlim[0]) * (right - left)
        fig.text(px / W, 1 - label_y / H, lab, ha="center", va="center",
                 fontsize=6.2, color=TXT, zorder=10)
    ax.set_yticks(yticks)
    ax.set_yticklabels([str(t) for t in yticks])
    ax.grid(True, which="both", color=GRID, lw=0.8)
    ax.set_axisbelow(True)
    ax.tick_params(axis="both", which="both", length=0, labelsize=6.2, labelcolor=TXT)
    ax.tick_params(axis="y", pad=-4.5)
    plt.setp(ax.get_yticklabels(), ha="left")
    ax.set_xlabel("")
    ax.set_ylabel("")
    for s in ax.spines.values():
        s.set_visible(False)
    handles = [Patch(facecolor=c, edgecolor=c, label=n) for n, c in zip(names, series_colors)]
    ax.legend(handles=handles, ncol=4, loc="center right", bbox_to_anchor=legend_anchor,
              frameon=False, fontsize=6.2, handlelength=0.85, handleheight=0.85,
              handletextpad=0.35, columnspacing=0.8, borderaxespad=0, borderpad=0,
              labelcolor=TXT)


axT = add_ax(838, 22, 1325, 287)
draw_hist(axT, (838, 1325), np.arange(-15, 30, T_bin_width), T_bin_width,
          [IS_1_T_hist_start, IS_2_T_hist_start, IS_3_T_hist_start, IS_4_T_hist_start],
          [IS_1_T_hist, IS_2_T_hist, IS_3_T_hist, IS_4_T_hist],
          T_fit_mean, T_fit_sd, (-15, 28.4), (-0.22, 58.3),
          T_hist_ticks, T_hist_ticklabels, [-15], [10, 20, 30, 40, 50], T_names,
          (0.985, 0.955), 293)

axRH = add_ax(838, 333, 1325, 598)
draw_hist(axRH, (838, 1325), np.arange(-40, 60, RH_bin_width), RH_bin_width,
          [IS_1_RH_hist_start, IS_2_RH_hist_start, IS_3_RH_hist_start, IS_4_RH_hist_start],
          [IS_1_RH_hist, IS_2_RH_hist, IS_3_RH_hist, IS_4_RH_hist],
          RH_fit_mean, RH_fit_sd, (-40, 56.8), (-0.05, 19.85),
          RH_hist_ticks, RH_hist_ticklabels, [-40], [2, 4, 6, 8, 10, 12, 14, 16, 18],
          RH_names, (0.97, 0.962), 605)

fig.text(1090 / W, 1 - 308 / H, ", ".join(T_names), fontsize=6.2, color=TXT,
         ha="center", va="center")
fig.text(1090 / W, 1 - 617 / H, ", ".join(RH_names), fontsize=6.2, color=TXT,
         ha="center", va="center")
fig.text(830 / W, 1 - 160 / H, "Percent", fontsize=5.9, color=TXT, rotation=90,
         ha="center", va="center")
fig.text(830 / W, 1 - 471 / H, "Percent", fontsize=5.9, color=TXT, rotation=90,
         ha="center", va="center")

# dashboard frame: divider band, panel edges and scroll bars
gray_box(0, 317, W, 325, "#dedede")
gray_box(809, 13, 813, 317, "#ececec")
gray_box(809, 325, 813, H, "#ececec")
gray_box(815, 143, 819, 313, "#a9a9a9")
gray_box(815, 568, 819, H, "#a9a9a9")

fig.savefig("out.png", dpi=100, facecolor="white")
